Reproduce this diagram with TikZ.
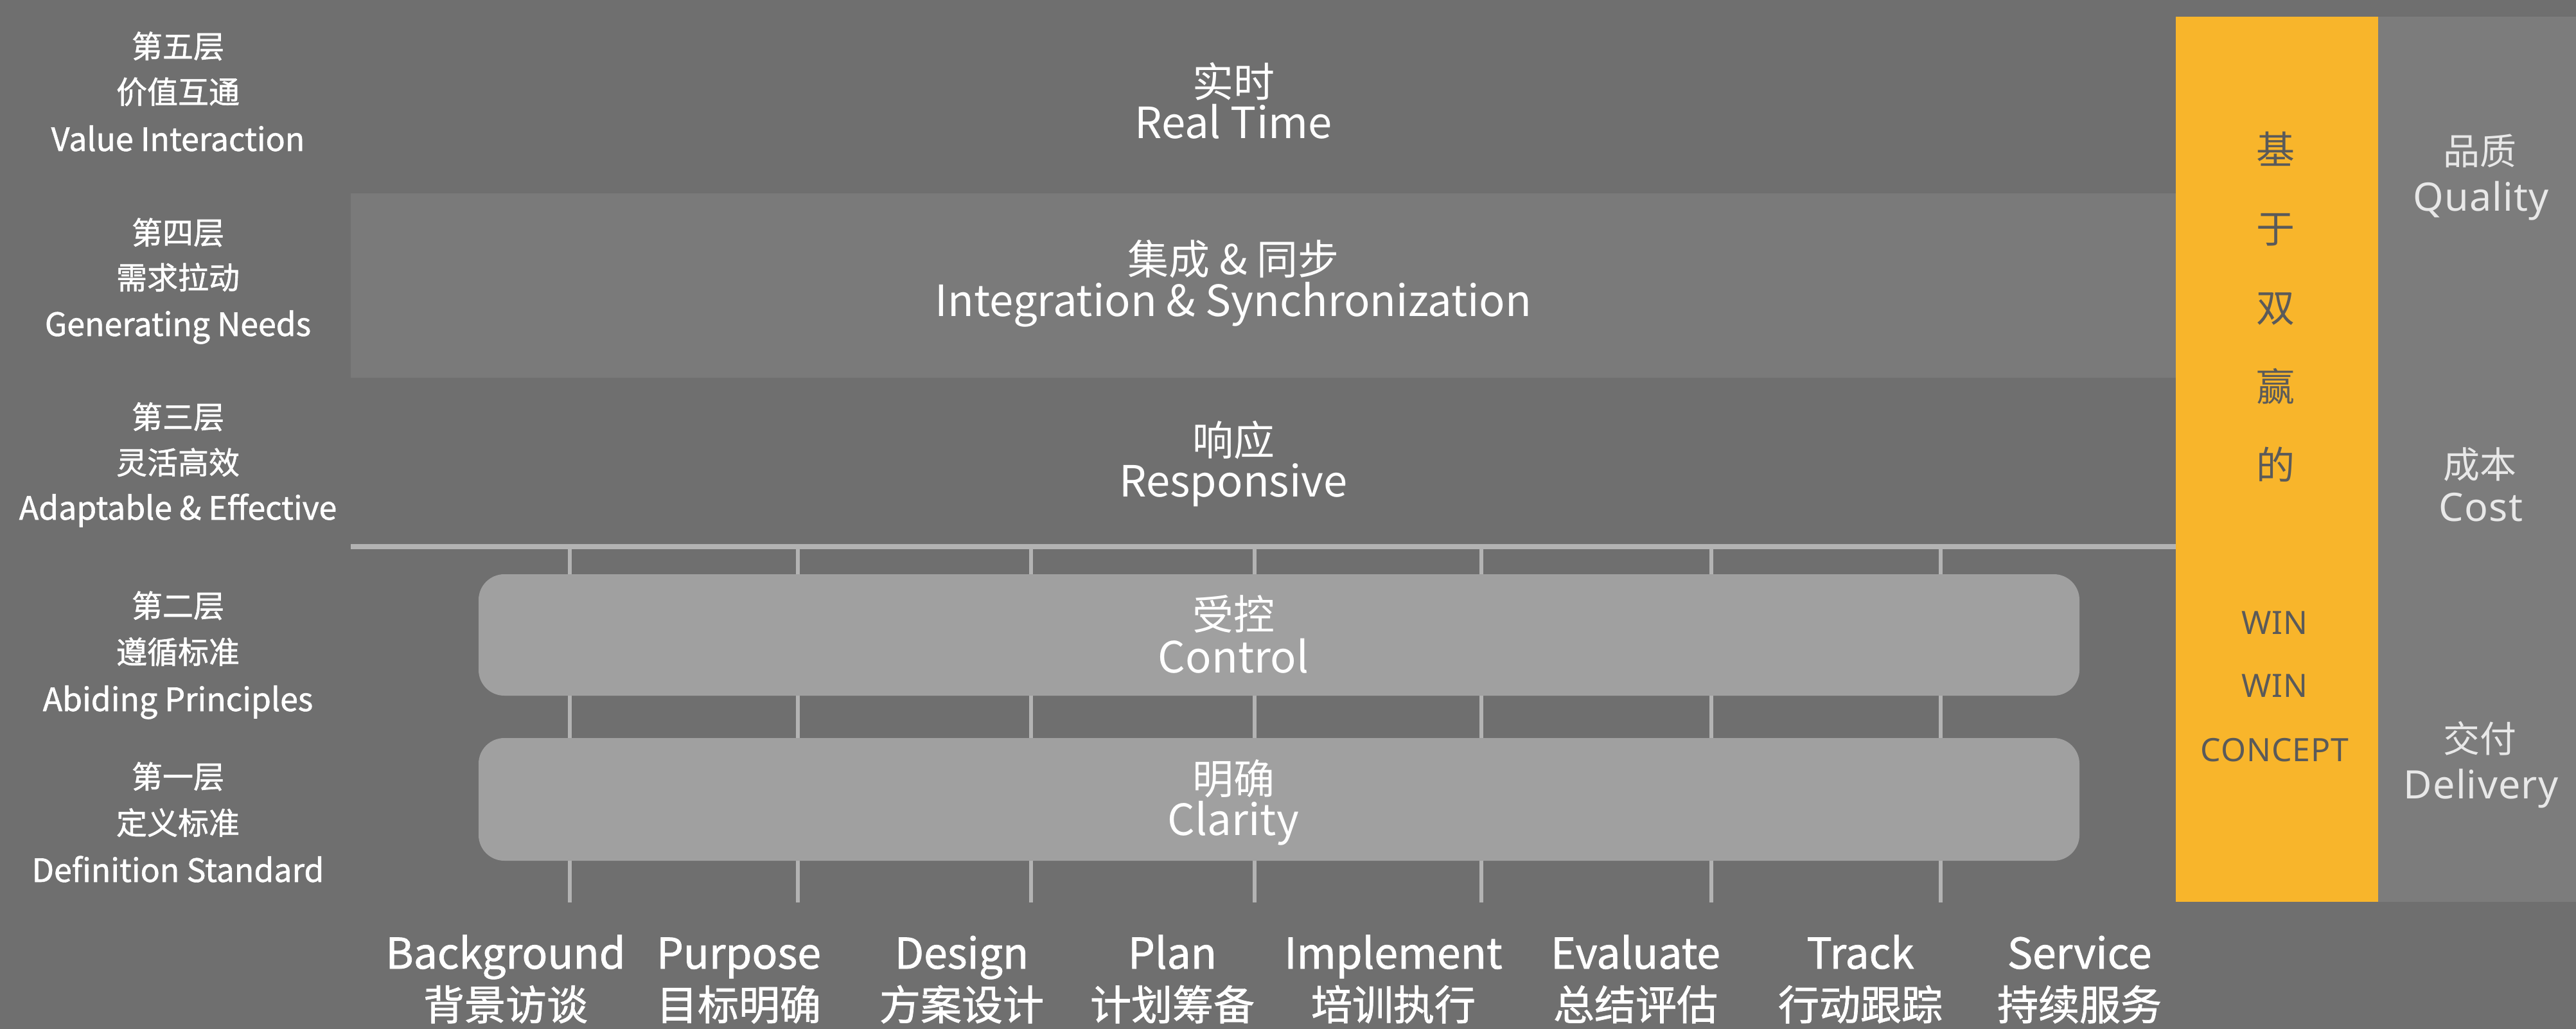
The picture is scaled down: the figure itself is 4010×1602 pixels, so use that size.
\documentclass[tikz,border=0pt]{standalone}
\usepackage{fontspec}
\setmainfont{Noto Sans CJK SC}
\newfontfamily\cjk{Noto Sans CJK SC}
\newfontfamily\cjkmed[FakeBold=1.2]{Noto Sans CJK SC}
\newfontfamily\lat[LetterSpace=2]{Noto Sans}
\definecolor{bgc}{HTML}{6F6F6F}
\definecolor{bandc}{HTML}{7A7A7A}
\definecolor{colc}{HTML}{7C7C7C}
\definecolor{boxc}{HTML}{A0A0A0}
\definecolor{linec}{HTML}{B3B3B3}
\definecolor{gold}{HTML}{F8B52B}
\definecolor{goldtxt}{HTML}{5A5A5A}
\definecolor{rtxt}{HTML}{E8E8E8}
\newcommand{\enL}[1]{{\fontsize{50}{50}\selectfont #1}}
\newcommand{\enM}[1]{{\fontsize{67}{67}\selectfont #1}}
\newcommand{\enB}[1]{{\fontsize{66}{66}\selectfont #1}}
\tikzset{
  txt/.style={anchor=base, inner sep=0pt, text=white},
  side/.style={txt, font={\fontsize{48}{48}\selectfont\cjkmed}},
  mid/.style={txt, font={\fontsize{64}{64}\selectfont\cjk}},
  stepname/.style={txt, font={\fontsize{64}{64}\selectfont\cjkmed}},
  goldzh/.style={txt, text=goldtxt, font={\fontsize{60}{60}\selectfont\cjk}},
  golden/.style={txt, text=goldtxt, font={\fontsize{50}{50}\selectfont\lat}},
  rzh/.style={txt, text=rtxt, font={\fontsize{57}{57}\selectfont\cjk}},
  ren/.style={txt, text=rtxt, font={\fontsize{61}{61}\selectfont\lat}},
  pill/.style={fill=boxc, draw=none, rounded corners=40pt, minimum width=2492pt, inner sep=0pt},
  tick/.style={draw=linec, line width=6pt},
  rail/.style={draw=linec, line width=8pt},
}
\begin{document}
\begin{tikzpicture}[x=1pt,y=-1pt]
\fill[bgc] (0,0) rectangle (4010,1602);
\useasboundingbox (0,0) rectangle (4010,1602);
% layer 4 band
\fill[bandc] (546,301) rectangle (3387,588);
% gold column and right column
\fill[gold] (3387,26) rectangle (3702,1404);
\fill[colc] (3702,26) rectangle (4010,1404);
% rail
\coordinate (railL) at (546,851);
\coordinate (railR) at (3387,851);
\draw[rail] (railL) -- (railR);
% ticks
\foreach \x [count=\i] in {887,1242,1605,1953,2306,2664,3021}{
  \coordinate (tt\i) at (\x,851);
  \coordinate (tb\i) at (\x,1405);
  \draw[tick] (tt\i) -- (tb\i);
}
% boxes
\node[pill, minimum height=189pt] (ctrl) at (1991,988.5) {};
\node[pill, minimum height=191pt] (clar) at (1991,1244.5) {};
% center labels
\node[mid] (c5a) at (1920,152) {实时};
\node[mid] (c5b) at (1920,216) {\enM{Real Time}};
\node[mid] (c4a) at (1920,428) {集成 \& 同步};
\node[mid] (c4b) at (1920,492) {\enM{Integration \& Synchronization}};
\node[mid] (c3a) at (1920,709) {响应};
\node[mid] (c3b) at (1920,773) {\enM{Responsive}};
\node[mid] (c2a) at (1920,980) {受控};
\node[mid] (c2b) at (1920,1047) {\enM{Control}};
\node[mid] (c1a) at (1920,1236) {明确};
\node[mid] (c1b) at (1920,1300) {\enM{Clarity}};
% left labels
\node[side] (l5a) at (277,90) {第五层};
\node[side] (l5b) at (277,161) {价值互通};
\node[side] (l5c) at (277,235) {\enL{Value Interaction}};
\node[side] (l4a) at (277,380) {第四层};
\node[side] (l4b) at (277,450) {需求拉动};
\node[side] (l4c) at (277,523) {\enL{Generating Needs}};
\node[side] (l3a) at (277,667) {第三层};
\node[side] (l3b) at (277,738) {灵活高效};
\node[side] (l3c) at (277,809) {\enL{Adaptable \& Effective}};
\node[side] (l2a) at (277,961) {第二层};
\node[side] (l2b) at (277,1033) {遵循标准};
\node[side] (l2c) at (277,1107) {\enL{Abiding Principles}};
\node[side] (l1a) at (277,1227) {第一层};
\node[side] (l1b) at (277,1299) {定义标准};
\node[side] (l1c) at (277,1373) {\enL{Definition Standard}};
% bottom step labels
\foreach \x/\en/\zh [count=\i] in {787/Background/背景访谈, 1150/Purpose/目标明确, 1497/Design/方案设计, 1825/Plan/计划筹备, 2169/Implement/培训执行, 2546/Evaluate/总结评估, 2896/Track/行动跟踪, 3237/Service/持续服务}{
  \node[stepname] (se\i) at (\x,1508) {\enB{\en}};
  \node[stepname] (sz\i) at (\x,1588) {\zh};
}
% gold column text
\node[goldzh] (g1) at (3542,256) {基};
\node[goldzh] (g2) at (3542,378) {于};
\node[goldzh] (g3) at (3542,501) {双};
\node[goldzh] (g4) at (3542,624) {赢};
\node[goldzh] (g5) at (3542,746) {的};
\node[golden] (w1) at (3541,987) {WIN};
\node[golden] (w2) at (3541,1085) {WIN};
\node[golden] (w3) at (3541,1185) {CONCEPT};
% right column
\node[rzh] (r1a) at (3860,257) {品质};
\node[ren] (r1b) at (3862,329) {Quality};
\node[rzh] (r2a) at (3860,744) {成本};
\node[ren] (r2b) at (3862,811) {Cost};
\node[rzh] (r3a) at (3860,1171) {交付};
\node[ren] (r3b) at (3862,1243) {Delivery};
\end{tikzpicture}
\end{document}
